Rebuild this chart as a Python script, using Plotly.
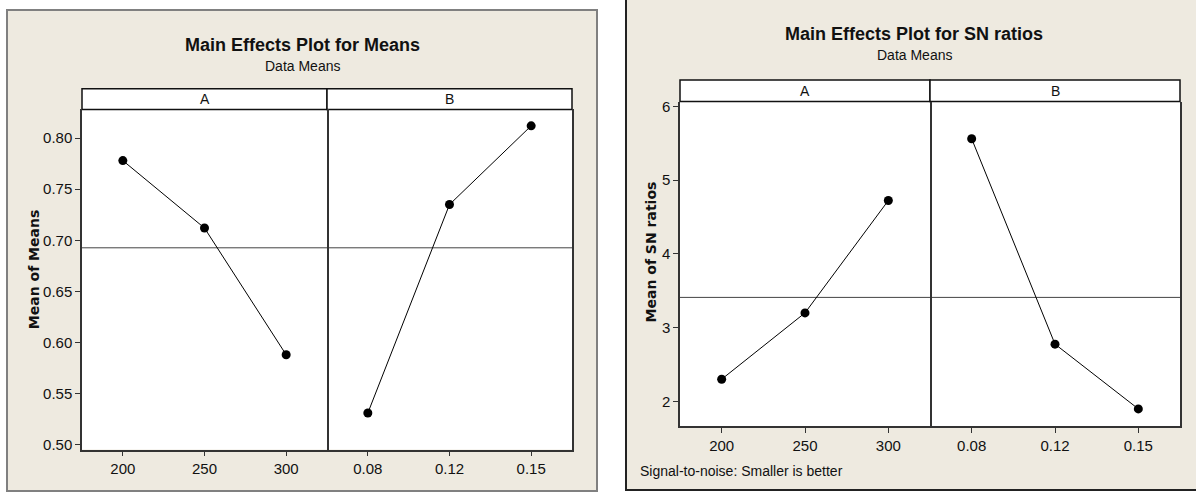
import plotly.graph_objects as go

# ---- data ----
a_levels = ["200", "250", "300"]
b_levels = ["0.08", "0.12", "0.15"]
means_a = [0.778, 0.712, 0.588]
means_b = [0.531, 0.735, 0.812]
sn_a = [2.30, 3.20, 4.725]
sn_b = [5.563, 2.776, 1.897]

mean_ticks = [0.50, 0.55, 0.60, 0.65, 0.70, 0.75, 0.80]
mean_ticktext = ["0.50", "0.55", "0.60", "0.65", "0.70", "0.75", "0.80"]
sn_ticks = [2, 3, 4, 5, 6]

W, H = 1196, 495
NARROW = "Liberation Sans Narrow, Liberation Sans, Arial, sans-serif"
WIDE = "DejaVu Sans, Verdana, sans-serif"
BEIGE = "#EEEAE0"
INK = "#111111"
LINE = "#333333"


def px(x):
    return x / W


def py(y):
    return 1 - y / H


fig = go.Figure()

# panel backgrounds
fig.add_shape(type="rect", xref="paper", yref="paper", x0=px(7), x1=px(597), y0=py(494), y1=py(6),
              fillcolor=BEIGE, line=dict(color="#808080", width=2), layer="below")
fig.add_shape(type="rect", xref="paper", yref="paper", x0=px(626), x1=px(1200), y0=py(493), y1=py(-5),
              fillcolor=BEIGE, line=dict(color="#222222", width=2), layer="below")
# white plotting regions
for (xl, xr, yt, yb_) in [(82, 572, 107, 452), (680, 1180, 99, 428)]:
    fig.add_shape(type="rect", xref="paper", yref="paper", x0=px(xl), x1=px(xr), y0=py(yb_), y1=py(yt),
                  fillcolor="white", line=dict(width=0), layer="below")

panels = [
    (("x", "x2"), ("y", "y2"), (82, 327, 572), (86, 107), means_a, means_b),
    (("x3", "x4"), ("y3", "y4"), (680, 930, 1180), (77, 99), sn_a, sn_b),
]

for (xa, xb), (ya, yb), (xl, xm, xr), (st, sb), da, db in panels:
    gm = (sum(da) + sum(db)) / (len(da) + len(db))
    for xid, yid, cats, vals, x0, x1, lab in [(xa, ya, a_levels, da, xl, xm, "A"),
                                               (xb, yb, b_levels, db, xm, xr, "B")]:
        fig.add_trace(go.Scatter(x=cats, y=vals, xaxis=xid, yaxis=yid, mode="lines+markers",
                                 line=dict(color="black", width=1),
                                 marker=dict(color="black", size=9), showlegend=False,
                                 hoverinfo="x+y"))
        # grand mean reference line
        fig.add_shape(type="line", xref=f"{xid} domain", yref=yid, x0=0, x1=1, y0=gm, y1=gm,
                      line=dict(color="#444444", width=1), layer="below")
        # strip
        fig.add_shape(type="rect", xref="paper", yref="paper", x0=px(x0), x1=px(x1),
                      y0=py(sb), y1=py(st), fillcolor="white",
                      line=dict(color=INK, width=1.5), layer="below")
        fig.add_annotation(text=lab, xref="paper", yref="paper", x=(px(x0) + px(x1)) / 2,
                           y=(py(sb) + py(st)) / 2, showarrow=False,
                           xanchor="center", yanchor="middle",
                           font=dict(family=NARROW, size=14, color=INK))

tickfont = dict(family=NARROW, size=15, color=INK)
common = dict(showgrid=False, zeroline=False, linecolor=LINE, linewidth=1.5,
              tickcolor=LINE, tickfont=tickfont)
xcommon = dict(type="category", range=[-0.5, 2.5], showline=True, mirror=False,
               ticks="outside", ticklen=5, **common)

fig.update_layout(
    # left panel
    xaxis=dict(domain=[px(82), px(327)], anchor="y", **xcommon),
    xaxis2=dict(domain=[px(327), px(572)], anchor="y2", **xcommon),
    yaxis=dict(domain=[py(452), py(107)], anchor="x", range=[0.4952, 0.828],
               tickvals=mean_ticks, ticktext=mean_ticktext, showline=True, mirror=True,
               ticks="outside", ticklen=5, **common),
    yaxis2=dict(domain=[py(452), py(107)], anchor="x2", matches="y", side="right",
                showline=True, mirror=False, ticks="", showticklabels=False, **common),
    # right panel
    xaxis3=dict(domain=[px(680), px(930)], anchor="y3", **xcommon),
    xaxis4=dict(domain=[px(930), px(1180)], anchor="y4", **xcommon),
    yaxis3=dict(domain=[py(428), py(99)], anchor="x3", range=[1.666, 6.067],
                tickvals=sn_ticks, showline=True, mirror=True,
                ticks="outside", ticklen=5, **common),
    yaxis4=dict(domain=[py(428), py(99)], anchor="x4", matches="y3", side="right",
                showline=True, mirror=False, ticks="", showticklabels=False, **common),
)

# titles and texts
texts = [
    ("Main Effects Plot for Means", 302, 42, dict(family=NARROW, size=18, color=INK), True, 0),
    ("Data Means", 302, 63, dict(family=NARROW, size=14, color=INK), False, 0),
    ("Main Effects Plot for SN ratios", 914, 30, dict(family=NARROW, size=18, color=INK), True, 0),
    ("Data Means", 914, 52, dict(family=NARROW, size=14, color=INK), False, 0),
    ("Mean of Means", 34, 270, dict(family=WIDE, size=14, color=INK), True, -90),
    ("Mean of SN ratios", 651, 252, dict(family=WIDE, size=14, color=INK), True, -90),
]
for t, x, y, f, bold, ang in texts:
    fig.add_annotation(text=f"<b>{t}</b>" if bold else t, xref="paper", yref="paper",
                       x=px(x), y=py(y), showarrow=False, font=f, textangle=ang,
                       xanchor="center", yanchor="middle")

fig.add_annotation(text="Signal-to-noise: Smaller is better", xref="paper", yref="paper",
                   x=px(638), y=py(474), xanchor="left", yanchor="middle", showarrow=False,
                   font=dict(family=NARROW, size=14, color=INK))

fig.update_layout(width=W, height=H, margin=dict(l=0, r=0, t=0, b=0),
                  paper_bgcolor="white", plot_bgcolor="rgba(0,0,0,0)", showlegend=False)

fig.write_html("out.html")
